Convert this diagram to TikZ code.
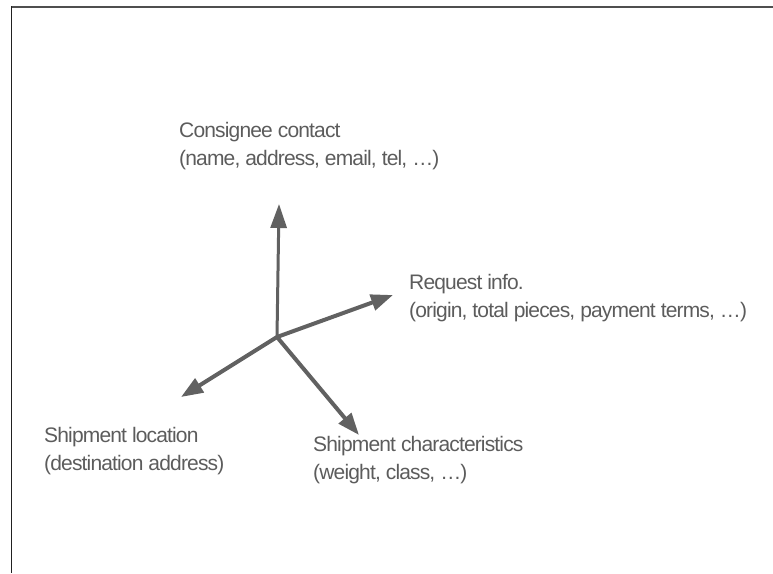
\documentclass[tikz,border=0pt]{standalone}
\usepackage{fontspec}
\setmainfont{Liberation Sans}
\newfontfamily\tightSans[LetterSpace=-4]{Liberation Sans}
\usetikzlibrary{
  arrows.meta,
  positioning
}
\definecolor{textGray}{rgb}{0.36,0.36,0.36}
\definecolor{arrowGray}{rgb}{0.38,0.38,0.38}
\definecolor{frameGray}{rgb}{0.31,0.31,0.31}
\definecolor{frameDark}{rgb}{0.13,0.13,0.13}
\tikzset{
  infoText/.style={
    align=left,
    anchor=north west,
    inner sep=0pt,
    text=textGray,
    font=\tightSans\fontsize{21}{28}\selectfont
  }
}
\tikzset{
  axis/.style={
    draw=arrowGray,
    line width=4pt,
    -{Triangle[length=22pt,width=16pt]}
  }
}

\begin{document}
\begin{tikzpicture}[x=1pt, y=-1pt]
    \useasboundingbox (0,0) rectangle (773,573);
    % frame
    \draw[frameGray, line width=2pt] (11,6.5) -- (773,6.5);
    \draw[frameDark, line width=1.5pt] (11.5,6) -- (11.5,573);

    \node[infoText] (contact) at (179,122)
      {Consignee contact\\(name, address, email, tel, \dots)};
    \node[infoText] (request) at (409,274)
      {Request info.\\(origin, total pieces, payment terms, \dots)};
    \node[infoText] (location) at (44,427)
      {Shipment location\\(destination address)};
    \node[infoText] (traits) at (313,436)
      {Shipment characteristics\\(weight, class, \dots)};

    \coordinate (hub) at (277,337);
    \coordinate (contactTip) at (279,204);
    \coordinate (requestTip) at (393,295);
    \coordinate (locationTip) at (181,397);
    \coordinate (traitsTip) at (359,435);

    \draw[axis, line width=3pt, -{Triangle[length=24pt,width=16pt]}]
      (hub) -- (contactTip);
    \foreach \tip in {requestTip, locationTip, traitsTip}{
      \draw[axis] (hub) -- (\tip);
    }
\end{tikzpicture}
\end{document}
